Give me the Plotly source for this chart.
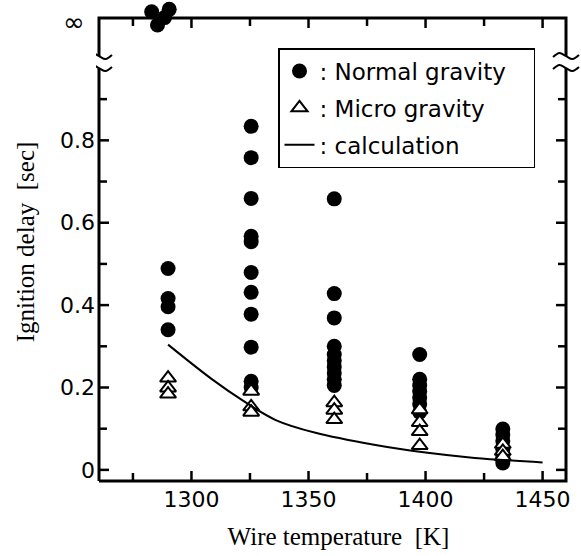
import plotly.graph_objects as go

# ---------------- data ----------------
# Normal gravity, finite ignition delays
normal_T = [1290, 1290, 1290, 1290,
            1325.5, 1325.5, 1325.5, 1325.5, 1325.5, 1325.5, 1325.5, 1325.5, 1325.5, 1325.5, 1325.5,
            1361, 1361, 1361, 1361, 1361, 1361, 1361, 1361, 1361, 1361,
            1397.5, 1397.5, 1397.5, 1397.5, 1397.5, 1397.5, 1397.5,
            1433, 1433, 1433, 1433, 1433, 1433]
normal_delay = [0.489, 0.416, 0.396, 0.340,
                0.834, 0.758, 0.659, 0.567, 0.554, 0.479, 0.431, 0.378, 0.298, 0.215, 0.200,
                0.658, 0.428, 0.369, 0.300, 0.280, 0.265, 0.250, 0.235, 0.220, 0.205,
                0.280, 0.220, 0.205, 0.190, 0.175, 0.160, 0.140,
                0.099, 0.085, 0.070, 0.050, 0.030, 0.017]
# Normal gravity, no ignition (infinite delay) -> drawn in the "infinity" band
normal_inf_T = [1283, 1290.5, 1285.5, 1288.5]
normal_inf_band = [1.112, 1.118, 1.080, 1.098]

# Micro gravity
micro_T = [1290, 1290, 1290,
           1325.5, 1325.5, 1325.5,
           1361, 1361, 1361,
           1397.5, 1397.5, 1397.5, 1397.5,
           1433, 1433, 1433]
micro_delay = [0.223, 0.199, 0.184,
               0.191, 0.153, 0.140,
               0.163, 0.145, 0.122,
               0.146, 0.115, 0.093, 0.059,
               0.062, 0.045, 0.032]

# Calculation
calc_T = [1290, 1309, 1322, 1336, 1353, 1378, 1400, 1421, 1450]
calc_delay = [0.304, 0.219, 0.168, 0.121, 0.090, 0.061, 0.042, 0.029, 0.018]

y_major = [0, 0.2, 0.4, 0.6, 0.8]
y_labels = ["0", "0.2", "0.4", "0.6", "0.8"]
y_minor = [0.1, 0.3, 0.5, 0.7, 0.9]
x_major = [1300, 1350, 1400, 1450]
x_labels = ["1300", "1350", "1400", "1450"]
x_minor = [1275, 1325, 1375, 1425]

# ---------------- geometry ----------------
W, H = 581, 556
X0, X1 = 1260.5, 1460.0        # frame (axis box) limits
Y0, Y1 = -0.027, 1.097         # Y1 is the "infinity" line
FL, FR, FT, FB = 99, 566, 18, 481   # frame in pixels
PL, PR, PT, PB = 96, 581, 0, 484    # plotting area in pixels
SX = (X1 - X0) / (FR - FL)     # data units per pixel
SY = (Y1 - Y0) / (FB - FT)
X_RANGE = [X0 - (FL - PL) * SX, X1 + (PR - FR) * SX]
Y_RANGE = [Y0 - (PB - FB) * SY, Y1 + (FT - PT) * SY]
MAJ, MIN = 10, 8
BREAK_C, BREAK_H = 0.99, 6 * SY

fig = go.Figure()
deco = dict(mode="lines", showlegend=False, hoverinfo="skip", cliponaxis=False)

# axis frame with breaks on both vertical sides
frame_x = [X0, X0, None, X0, X0, X1, X1, None, X1, X1, X0]
frame_y = [Y0, BREAK_C - BREAK_H, None, BREAK_C + BREAK_H, Y1, Y1, BREAK_C + BREAK_H, None,
           BREAK_C - BREAK_H, Y0, Y0]
fig.add_trace(go.Scatter(x=frame_x, y=frame_y, line=dict(color="black", width=3), **deco))

# inside tick marks on all four sides, one small trace per tick
ticks = []
for v, ln in [(v, MAJ) for v in x_major] + [(v, MIN) for v in x_minor]:
    ticks.append(([v, v], [Y0, Y0 + ln * SY]))
    ticks.append(([v, v], [Y1, Y1 - ln * SY]))
for v, ln in [(v, MAJ) for v in y_major] + [(v, MIN) for v in y_minor]:
    ticks.append(([X0, X0 + ln * SX], [v, v]))
    ticks.append(([X1, X1 - ln * SX], [v, v]))
for tx, ty in ticks:
    fig.add_trace(go.Scatter(x=tx, y=ty, line=dict(color="black", width=2.5), **deco))

# break squiggles
sq_dx = [-13, -6.5, 0, 6.5, 13]
sq_dy = [-1, 3, 0, -3, 1]
for xc in (X0, X1):
    for yc in (BREAK_C - BREAK_H, BREAK_C + BREAK_H):
        fig.add_trace(go.Scatter(x=[xc + d * SX for d in sq_dx],
                                 y=[yc + d * SY for d in sq_dy],
                                 line=dict(color="black", width=2, shape="spline"), **deco))

fig.add_trace(go.Scatter(
    x=normal_T + normal_inf_T, y=normal_delay + normal_inf_band,
    mode="markers", name=": Normal gravity\u00a0\u00a0\u00a0", legendgroup="a",
    marker=dict(symbol="circle", size=15, color="black"), cliponaxis=False))
fig.add_trace(go.Scatter(
    x=micro_T, y=micro_delay, mode="markers", name=": Micro gravity", legendgroup="b",
    marker=dict(symbol="triangle-up", size=14, color="white",
                line=dict(color="black", width=2)), cliponaxis=False))
fig.add_trace(go.Scatter(
    x=calc_T, y=calc_delay, mode="lines", name=": calculation", legendgroup="c",
    line=dict(color="black", width=2, shape="spline")))

axis_common = dict(showline=False, ticks="", showgrid=False, zeroline=False,
                   tickfont=dict(family="DejaVu Sans", size=22, color="black"))
fig.update_xaxes(range=X_RANGE, tickmode="array", tickvals=x_major, ticktext=x_labels,
                 title=dict(text="Wire temperature  [K]", standoff=16,
                            font=dict(family="Liberation Serif, Times New Roman", size=25,
                                      color="black")),
                 **axis_common)
fig.update_yaxes(range=Y_RANGE, tickmode="array", tickvals=y_major, ticktext=y_labels,
                 title=dict(text="Ignition delay  [sec]", standoff=18,
                            font=dict(family="Liberation Serif, Times New Roman", size=25,
                                      color="black")),
                 **axis_common)

fig.add_annotation(x=X0, y=Y1, xref="x", yref="y", text="∞",
                   showarrow=False, xanchor="right", yanchor="middle", xshift=-12, yshift=-4,
                   font=dict(family="DejaVu Sans", size=26, color="black"))

fig.update_layout(
    template="none",
    width=W, height=H,
    margin=dict(l=PL, r=W - PR, t=PT, b=H - PB, pad=0),
    paper_bgcolor="white", plot_bgcolor="white",
    showlegend=True,
    legend=dict(x=(278 - PL) / (PR - PL), y=1 - (48 - PT) / (PB - PT),
                xanchor="left", yanchor="top",
                bgcolor="white", bordercolor="black", borderwidth=1.5,
                font=dict(family="DejaVu Sans", size=23, color="black"),
                tracegroupgap=4, itemwidth=30),
)

fig.write_html("out.html")
